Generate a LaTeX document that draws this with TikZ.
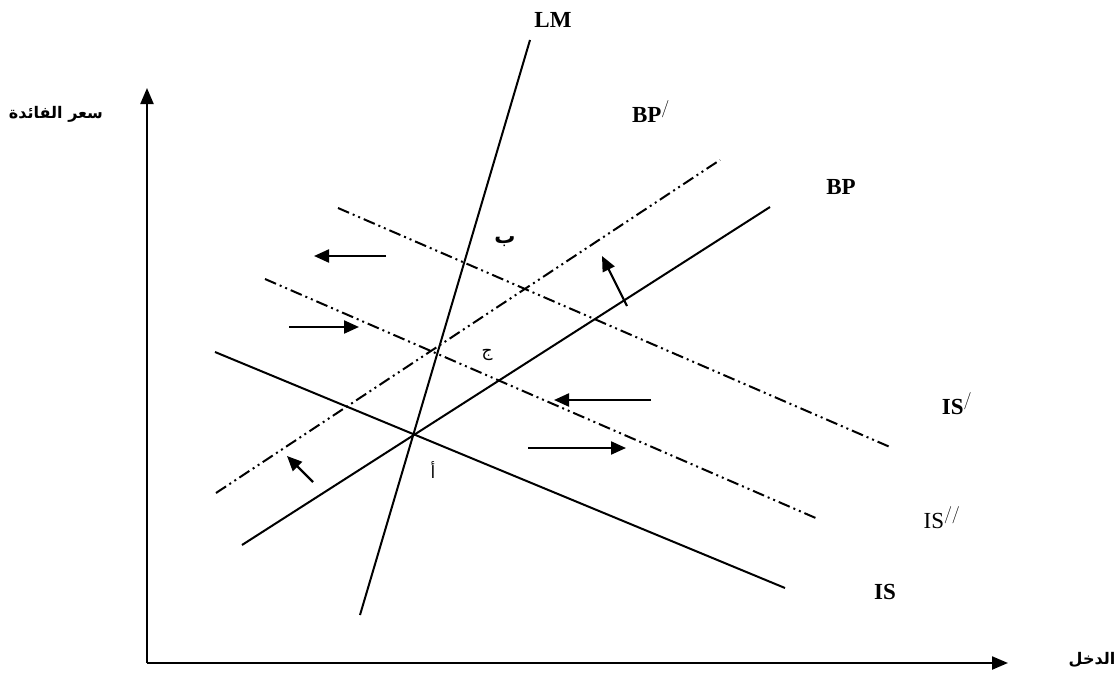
\documentclass[tikz,border=0pt]{standalone}
\usepackage{fontspec}
\setmainfont{Liberation Serif}
\newfontfamily\arabicfont[Script=Arabic]{DejaVu Sans}
\TeXXeTstate=1
\usetikzlibrary{arrows.meta}
\begin{document}
\begin{tikzpicture}[x=1pt,y=-1pt,
  curve/.style={line width=2pt},
  dcurve/.style={line width=2pt, dash pattern=on 12pt off 4pt on 2pt off 4pt on 2pt off 4pt},
  axisline/.style={line width=2.2pt,-{Triangle[length=16pt,width=13pt]}},
  movearrow/.style={line width=2.2pt,-{Triangle[length=15pt,width=13pt]}},
  lbl/.style={font=\fontsize{23}{25}\selectfont\bfseries, inner sep=0pt},
  albl/.style={font=\fontsize{16}{18}\selectfont\arabicfont\bfseries, inner sep=0pt},
  alblr/.style={font=\fontsize{17}{19}\selectfont\arabicfont, inner sep=0pt}]
\useasboundingbox (0,0) rectangle (1120,680);
% axes
\coordinate (O) at (147,663);
\coordinate (Ytop) at (147,88);
\coordinate (Xend) at (1008,663);
\draw[axisline] (O) -- (Ytop);
\draw[axisline] (O) -- (Xend);
\node[albl] (ylab) at (56,114) {\beginR سعر الفائدة\endR};
\node[albl] (xlab) at (1092,660) {\beginR الدخل\endR};
% curves
\coordinate (lm1) at (360,615); \coordinate (lm2) at (530,40);
\draw[curve] (lm1) -- (lm2);
\coordinate (is1) at (215,352); \coordinate (is2) at (785,588);
\draw[curve] (is1) -- (is2);
\coordinate (bp1) at (242,545); \coordinate (bp2) at (770,207);
\draw[curve] (bp1) -- (bp2);
\coordinate (bpp1) at (216,493); \coordinate (bpp2) at (720,160);
\draw[dcurve] (bpp1) -- (bpp2);
\coordinate (isp1) at (338,208); \coordinate (isp2) at (890,447);
\draw[dcurve] (isp1) -- (isp2);
\coordinate (ispp1) at (265,279); \coordinate (ispp2) at (818,519);
\draw[dcurve] (ispp1) -- (ispp2);
% labels
\node[lbl] (LM) at (553,20) {LM};
\node[lbl] (BPp) at (651,112) {BP$^{\mathrm{/}}$};
\node[lbl] (BP) at (841,187) {BP};
\node[lbl] (ISp) at (957,404) {IS$^{\mathrm{/}}$};
\node[font=\fontsize{23}{25}\selectfont, inner sep=0pt] (ISpp) at (942,518) {IS$^{\mathrm{//}}$};
\node[lbl] (IS) at (885,592) {IS};
\node[font=\fontsize{21}{23}\selectfont\arabicfont\bfseries, inner sep=0pt] (b) at (505,242) {\beginR ب\endR};
\node[alblr] (j) at (487,355) {\beginR ج\endR};
\node[alblr] (a) at (433,470) {\beginR أ\endR};
% shift arrows
\coordinate (a1s) at (386,256); \coordinate (a1e) at (314,256);
\draw[movearrow] (a1s) -- (a1e);
\coordinate (a2s) at (289,327); \coordinate (a2e) at (359,327);
\draw[movearrow] (a2s) -- (a2e);
\coordinate (a3s) at (651,400); \coordinate (a3e) at (554,400);
\draw[movearrow] (a3s) -- (a3e);
\coordinate (a4s) at (528,448); \coordinate (a4e) at (626,448);
\draw[movearrow] (a4s) -- (a4e);
\coordinate (a5s) at (627,306); \coordinate (a5e) at (602,256);
\draw[movearrow] (a5s) -- (a5e);
\coordinate (a6s) at (313,482); \coordinate (a6e) at (287,456);
\draw[movearrow] (a6s) -- (a6e);
\end{tikzpicture}
\end{document}
